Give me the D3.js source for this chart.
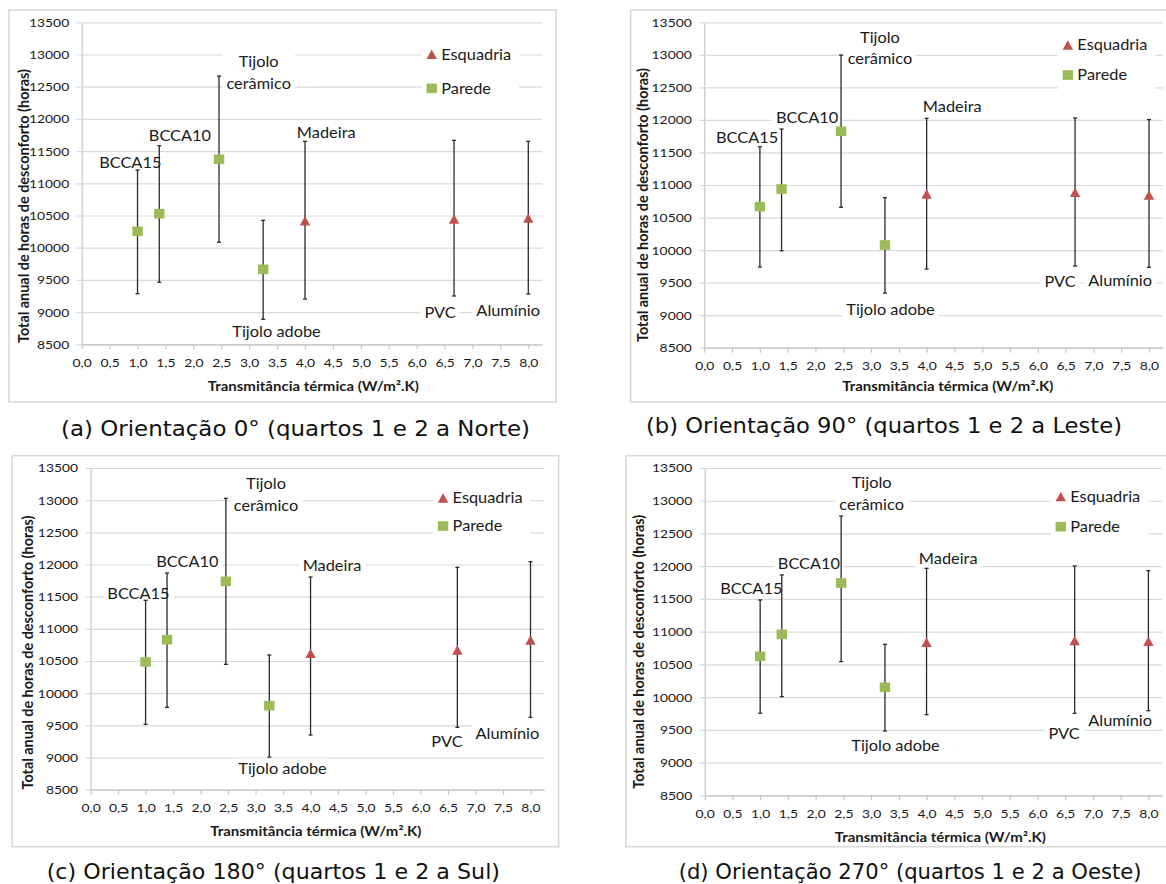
<!DOCTYPE html>
<html>
<head>
<meta charset="utf-8">
<script src="https://cdn.jsdelivr.net/npm/d3@7"></script>
<style>
  html, body { margin: 0; padding: 0; background: #ffffff; }
  svg { display: block; }
</style>
</head>
<body>
<svg id="fig" width="1166" height="884"></svg>
<script>
// Materials, their group and thermal transmittance (W/m².K)
const materials = ["BCCA15", "BCCA10", "Tijolo cerâmico", "Tijolo adobe", "Madeira", "PVC", "Alumínio"];
const materialType = ["Parede", "Parede", "Parede", "Parede", "Esquadria", "Esquadria", "Esquadria"];
const transmittance = [1.0, 1.39, 2.46, 3.25, 4.0, 6.67, 8.0];

// Annual discomfort hours per orientation: mean, minimum and maximum
const mean0    = [10255, 10528, 11373,  9665, 10419, 10445, 10460];
const low0     = [ 9286,  9463, 10084,  8888,  9203,  9250,  9281];
const high0    = [11207, 11584, 12666, 10425, 11652, 11667, 11652];

const mean90   = [10667, 10938, 11825, 10078, 10862, 10887, 10846];
const low90    = [ 9740,  9990, 10657,  9340,  9709,  9755,  9735];
const high90   = [11588, 11860, 12997, 10805, 12025, 12030, 12005];

const mean180  = [10485, 10832, 11738,  9806, 10619, 10671, 10826];
const low180   = [ 9516,  9780, 10448,  9008,  9350,  9469,  9624];
const high180  = [11443, 11868, 13028, 10593, 11806, 11956, 12044];

const mean270  = [10623, 10959, 11743, 10150, 10837, 10863, 10853];
const low270   = [ 9753, 10007, 10542,  9483,  9732,  9753,  9793];
const high270  = [11484, 11866, 12767, 10807, 11967, 12003, 11932];

// Axis ticks and texts
const yTicks = d3.range(8500, 13501, 500);
const xTicks = d3.range(0, 8.001, 0.5);
const legendItems = ["Esquadria", "Parede"];
const yTitle = "Total anual de horas de desconforto (horas)";
const xTitle = "Transmitância térmica (W/m².K)";
const captions = [
  "(a) Orientação 0° (quartos 1 e 2 a Norte)",
  "(b) Orientação 90° (quartos 1 e 2 a Leste)",
  "(c) Orientação 180° (quartos 1 e 2 a Sul)",
  "(d) Orientação 270° (quartos 1 e 2 a Oeste)"
];

// Data-label anchors (in axis units) and legend anchors for each panel
const labelAt0   = [[0.87, 11326], [1.76, 11740], [3.17, 12721], [3.49, 8697], [4.38, 11792], [6.42, 8997], [7.64, 9018]];
const labelAt90  = [[0.77, 11727], [1.85, 12040], [3.16, 13100], [3.35, 9079], [4.46, 12204], [6.40, 9509], [7.48, 9529]];
const labelAt180 = [[0.87, 11552], [1.76, 12039], [3.19, 13083], [3.49, 8832], [4.39, 11982], [6.48, 9251], [7.58, 9365]];
const labelAt270 = [[0.84, 11657], [1.88, 12044], [3.01, 13110], [3.44, 9259], [4.39, 12120], [6.48, 9447], [7.49, 9635]];

// Page layout of the four panels (pixels)
const panels = [
  { mean: mean0, low: low0, high: high0, labels: labelAt0, legend: [6.27, 13003, 12475],
    frame: [9, 10, 556, 402], x0: 81.7, x8: 528.3, yTop: 22.3, yBot: 344.3,
    yTitleAt: [24, 206], xTitleAt: [313.3, 386.7], cap: [61, 530, 435.5] },
  { mean: mean90, low: low90, high: high90, labels: labelAt90, legend: [6.54, 13152, 12690],
    frame: [630.7, 10, 1200, 402], x0: 704.3, x8: 1149, yTop: 22.3, yBot: 347.7,
    yTitleAt: [643.3, 205], xTitleAt: [947.8, 386.7], cap: [646, 1122, 432.5] },
  { mean: mean180, low: low180, high: high180, labels: labelAt180, legend: [6.41, 13034, 12598],
    frame: [12.2, 455.7, 558.6, 846.7], x0: 90.6, x8: 530.5, yTop: 468, yBot: 789.7,
    yTitleAt: [27.7, 652.5], xTitleAt: [315.8, 831.7], cap: [46.7, 500, 879.3] },
  { mean: mean270, low: low270, high: high270, labels: labelAt270, legend: [6.42, 13062, 12604],
    frame: [626, 455.7, 1200, 846.7], x0: 704.7, x8: 1148.4, yTop: 468, yBot: 795.3,
    yTitleAt: [639, 651.7], xTitleAt: [940.3, 837.3], cap: [678.7, 1141.5, 879.3] }
];
panels.forEach((p, i) => p.caption = captions[i]);

const FONT = "Lato, 'Open Sans', 'Liberation Sans', sans-serif";
const CAP_FONT = "'DejaVu Sans', 'Noto Sans', sans-serif";
const SX = 1.12;               // horizontal stretch of the chart lettering
const GRID = "#d9d9d9";
const AXIS = "#c6c6c6";
const INK = "#1a1a1a";
const RED = "#c0504d";
const GREEN = "#9bbb59";
const X_MAX = 8.25;

const svg = d3.select("#fig");

function fmtX(d) { return d.toFixed(1).replace(".", ","); }

// Square and triangle markers, centred on their bounding box
function marker(sel, type, cx, cy) {
  if (type === "Parede") {
    sel.append("rect")
      .attr("x", cx - 5.2).attr("y", cy - 4.8)
      .attr("width", 10.4).attr("height", 9.6)
      .attr("fill", GREEN);
  } else {
    const w = 10.4, h = 9.4;
    sel.append("path")
      .attr("d", `M${cx},${cy - h / 2}L${cx + w / 2},${cy + h / 2}L${cx - w / 2},${cy + h / 2}Z`)
      .attr("fill", RED);
  }
}

// Horizontally stretched text block centred at (x, y), optional white backing box
function label(boxLayer, textLayer, x, y, lines, size, opts = {}) {
  const lineGap = opts.lineGap || 21.7;
  const g = textLayer.append("g").attr("transform", `translate(${x},${y}) scale(${SX},1)`);
  const t = g.append("text")
    .attr("font-family", FONT)
    .attr("font-size", size)
    .attr("fill", INK)
    .attr("text-anchor", opts.anchor || "middle");
  const n = lines.length;
  lines.forEach((s, k) => {
    t.append("tspan")
      .attr("x", 0)
      .attr("y", (k - (n - 1) / 2) * lineGap)
      .attr("dy", "0.36em")
      .text(s);
  });
  if (opts.box) {
    const b = t.node().getBBox();
    boxLayer.append("g").attr("transform", `translate(${x},${y}) scale(${SX},1)`)
      .append("rect")
      .attr("x", b.x - 3.5).attr("y", b.y - 1)
      .attr("width", b.width + 7).attr("height", b.height + 2)
      .attr("fill", "#ffffff");
  }
  return t;
}

panels.forEach(p => {
  const root = svg.append("g");
  const [fx0, fy0, fx1, fy1] = p.frame;

  // chart frame
  root.append("rect")
    .attr("x", fx0).attr("y", fy0)
    .attr("width", fx1 - fx0).attr("height", fy1 - fy0)
    .attr("fill", "#ffffff")
    .attr("stroke", GRID).attr("stroke-width", 1.6);

  const x = d3.scaleLinear().domain([0, 8]).range([p.x0, p.x8]);
  const xr = x.copy().domain([0, X_MAX]).range([p.x0, x(X_MAX)]);
  const y = d3.scaleLinear().domain([8500, 13500]).range([p.yBot, p.yTop]);
  const plotW = x(X_MAX) - p.x0;

  // horizontal gridlines and y-axis
  const yAxis = root.append("g")
    .attr("transform", `translate(${p.x0},0)`)
    .call(d3.axisLeft(y).tickValues(yTicks).tickSize(-plotW).tickSizeOuter(0).tickPadding(12.5 / SX).tickFormat(d3.format("d")));
  yAxis.select(".domain").attr("stroke", AXIS).attr("stroke-width", 1.2);
  yAxis.selectAll(".tick line").attr("x1", -5).attr("stroke", GRID).attr("stroke-width", 1.2);
  yAxis.selectAll(".tick text")
    .attr("font-family", FONT).attr("font-size", 12.4).attr("fill", INK)
    .attr("transform", `scale(${SX},1)`);

  // x-axis along the bottom gridline
  const xAxis = root.append("g")
    .attr("transform", `translate(0,${p.yBot})`)
    .call(d3.axisBottom(xr).tickValues(xTicks).tickSize(5).tickSizeOuter(0).tickPadding(9).tickFormat(fmtX));
  xAxis.select(".domain").attr("stroke", AXIS).attr("stroke-width", 1.2);
  xAxis.selectAll(".tick line").attr("stroke", AXIS).attr("stroke-width", 1.2);
  xAxis.selectAll(".tick text")
    .attr("font-family", FONT).attr("font-size", 12.4).attr("fill", INK)
    .attr("transform", `scale(${SX},1)`);

  const boxLayer = root.append("g");
  const barLayer = root.append("g");
  const markLayer = root.append("g");
  const textLayer = root.append("g");

  // data labels with white backing
  materials.forEach((m, i) => {
    const [lx, ly] = p.labels[i];
    const lines = m === "Tijolo cerâmico" ? ["Tijolo", "cerâmico"] : [m];
    label(boxLayer, textLayer, x(lx), y(ly), lines, 14.6, { box: true });
  });

  // error bars (min–max) with small caps
  materials.forEach((m, i) => {
    const cx = x(transmittance[i]);
    const bar = barLayer.append("g").attr("stroke", "#2a2a2a").attr("stroke-width", 1.3);
    bar.append("line").attr("x1", cx).attr("x2", cx).attr("y1", y(p.low[i])).attr("y2", y(p.high[i]));
    bar.append("line").attr("x1", cx - 2).attr("x2", cx + 2).attr("y1", y(p.low[i])).attr("y2", y(p.low[i]));
    bar.append("line").attr("x1", cx - 2).attr("x2", cx + 2).attr("y1", y(p.high[i])).attr("y2", y(p.high[i]));
  });

  // markers
  materials.forEach((m, i) => {
    marker(markLayer, materialType[i], x(transmittance[i]), y(p.mean[i]));
  });

  // legend
  const [lgx, lgy1, lgy2] = p.legend;
  const lx = x(lgx);
  const legRows = [y(lgy1), y(lgy2)];
  const legG = root.append("g");
  const legBox = legG.append("rect").attr("fill", "#ffffff");
  const legText = legG.append("g");
  legendItems.forEach((name, k) => {
    marker(legG, name, lx, legRows[k]);
    label(legG, legText, lx + 9.5, legRows[k], [name], 14.6, { anchor: "start" });
  });
  const lb = legText.node().getBBox();
  legBox.attr("x", lx - 10).attr("y", legRows[0] - 16)
    .attr("width", (lb.x + lb.width) - (lx - 10) + 8)
    .attr("height", legRows[1] - legRows[0] + 32);
  legText.raise();

  // axis titles
  root.append("text")
    .attr("transform", `translate(${p.yTitleAt[0]},${p.yTitleAt[1]}) rotate(-90)`)
    .attr("text-anchor", "middle").attr("dy", "0.35em")
    .attr("font-family", FONT).attr("font-weight", 700).attr("font-size", 14.4)
    .attr("fill", INK)
    .text(yTitle);
  root.append("g")
    .attr("transform", `translate(${p.xTitleAt[0]},${p.xTitleAt[1]}) scale(${SX},1)`)
    .append("text")
    .attr("text-anchor", "middle").attr("dy", "0.35em")
    .attr("font-family", FONT).attr("font-weight", 700).attr("font-size", 13.4)
    .attr("fill", INK)
    .text(xTitle);

  // panel caption
  svg.append("text")
    .attr("x", p.cap[0]).attr("y", p.cap[2])
    .attr("font-family", CAP_FONT).attr("font-weight", 400).attr("font-size", 22)
    .attr("fill", "#111111")
    .attr("textLength", p.cap[1] - p.cap[0])
    .attr("lengthAdjust", "spacingAndGlyphs")
    .text(p.caption);
});
</script>
</body>
</html>
